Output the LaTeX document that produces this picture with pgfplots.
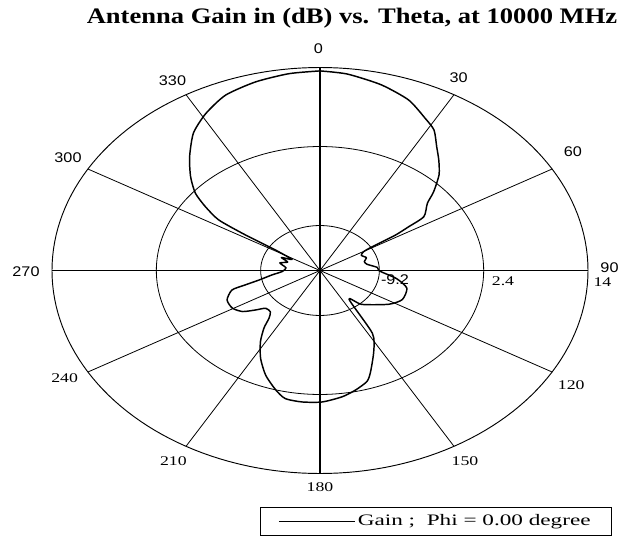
\documentclass[border=0pt]{standalone}
\usepackage{pgfplots}
\pgfplotsset{compat=1.18}
\usepackage{pgfplotstable}
\usepackage{fontspec}
\setmainfont{Liberation Serif}
\newfontfamily\titlefont[FakeStretch=1.2]{Liberation Serif}
\newfontfamily\lblsans[FakeStretch=1.16]{Liberation Sans}
\newfontfamily\lblserif[FakeStretch=1.33]{Liberation Serif}
\newfontfamily\legfont[FakeStretch=1.45]{Liberation Serif}

% theta (deg), gain (dB)
\pgfplotstableread{
t g
0 13.5
6 13.2
14 12.3
21.5 11.1
27.7 9.4
31.6 8.4
35.6 6.5
39.2 5.1
43.3 3.5
47.6 1.3
50.4 -0.3
55.6 -1.8
56.9 -4.0
58.2 -5.9
58.6 -7.7
59.2 -9.4
60.3 -10.2
64 -10.7
70 -10.3
75 -10.7
80 -10.5
86 -9.4
90.5 -9.2
98 -7.2
105 -5.8
115 -5.7
123 -6.7
137 -9.0
142.6 -10.5
147.7 -4.9
153.3 -2.5
159.3 0.1
162.2 1.3
167.4 2.2
172.4 2.9
179.3 3.5
185.9 3.6
191.6 3.4
195.7 2.4
201.5 0.7
207.1 -1.3
212.3 -3.4
216.4 -5.3
219 -6.8
222.3 -7.6
227.5 -7.6
231 -6.6
235 -5.3
240.4 -4.6
247.3 -4.6
253.7 -5.6
255.7 -7.2
258.4 -8.9
263 -10.4
268 -11.6
276 -12.0
284 -11.2
289 -12.0
294 -11.1
297.5 -12.3
301.3 -10.0
301.9 -7.8
302.3 -5.6
303.4 -2.3
306.3 0.0
309.3 2.1
313.7 4.1
319 6.3
325.1 8.8
331.1 10.5
337.8 12.0
345.5 12.8
353.2 13.3
360 13.5
}\gaintable

\begin{document}
\begin{tikzpicture}
\useasboundingbox (-240pt,-201.375pt) rectangle (227.25pt,202.875pt);
\begin{axis}[
  at={(0,0)}, anchor=center,
  scale only axis, width=402pt, height=304.5pt,
  xmin=-29.8, xmax=29.8, ymin=-29.8, ymax=29.8,
  hide axis, clip=false,
  legend style={at={(1.0442,-0.1532)}, anchor=south east, draw=black, line width=0.6pt,
    font=\legfont\fontsize{12}{14}\selectfont, inner xsep=13.5pt, inner ysep=3.6pt},
  legend image code/.code={\draw[#1,line width=0.6pt] (0pt,0pt) -- (57pt,0pt);},
]
% grid circles (-9.2, 2.4, 14 dB)
\addplot[black, line width=0.6pt, domain=0:360, samples=181, forget plot] ({6.6*sin(x)},{6.6*cos(x)});
\addplot[black, line width=0.6pt, domain=0:360, samples=181, forget plot] ({18.2*sin(x)},{18.2*cos(x)});
\addplot[black, line width=0.7pt, domain=0:360, samples=181, forget plot] ({29.8*sin(x)},{29.8*cos(x)});
% spokes
\addplot[black, line width=0.8pt, forget plot] coordinates {(0,29.8) (0,-29.8)};
\addplot[black, line width=0.8pt, forget plot] coordinates {(29.8,0) (-29.8,0)};
\addplot[black, line width=0.6pt, forget plot] coordinates {(14.9,25.81) (-14.9,-25.81)};
\addplot[black, line width=0.6pt, forget plot] coordinates {(25.81,14.9) (-25.81,-14.9)};
\addplot[black, line width=0.6pt, forget plot] coordinates {(25.81,-14.9) (-25.81,14.9)};
\addplot[black, line width=0.6pt, forget plot] coordinates {(14.9,-25.81) (-14.9,25.81)};
% gain pattern
\addplot[black, line width=1.1pt, line join=round, smooth, tension=0.4] table[
  x expr={(\thisrow{g}+15.8)*sin(\thisrow{t})},
  y expr={(\thisrow{g}+15.8)*cos(\thisrow{t})}] {\gaintable};
\addlegendentry{Gain ;\ \ Phi = 0.00 degree}
% angle labels
\begin{scope}[every node/.style={inner sep=0pt, anchor=center}]
\node[font=\lblsans\fontsize{10.5}{12}\selectfont] at (axis cs:-0.19,32.56) {0};
\node[font=\lblsans\fontsize{10.5}{12}\selectfont] at (axis cs:15.41,28.33) {30};
\node[font=\lblsans\fontsize{10.5}{12}\selectfont] at (axis cs:28.13,17.44) {60};
\node[font=\lblsans\fontsize{10.5}{12}\selectfont] at (axis cs:32.19,0.37) {90};
\node[font=\lblserif\fontsize{10}{12}\selectfont] at (axis cs:31.41,-1.76) {14};
\node[font=\lblserif\fontsize{10}{12}\selectfont] at (axis cs:27.94,-16.81) {120};
\node[font=\lblserif\fontsize{10}{12}\selectfont] at (axis cs:16.12,-28.01) {150};
\node[font=\lblserif\fontsize{10}{12}\selectfont] at (axis cs:0,-31.81) {180};
\node[font=\lblserif\fontsize{10}{12}\selectfont] at (axis cs:-16.31,-28.01) {210};
\node[font=\lblserif\fontsize{10}{12}\selectfont] at (axis cs:-28.39,-15.83) {240};
\node[font=\lblsans\fontsize{10.5}{12}\selectfont] at (axis cs:-32.69,-0.22) {270};
\node[font=\lblsans\fontsize{10.5}{12}\selectfont] at (axis cs:-28.02,16.51) {300};
\node[font=\lblsans\fontsize{10.5}{12}\selectfont] at (axis cs:-16.40,27.82) {330};
\node[font=\lblsans\fontsize{10.5}{12}\selectfont] at (axis cs:8.34,-1.39) {-9.2};
\node[font=\lblserif\fontsize{10}{12}\selectfont] at (axis cs:20.35,-1.61) {2.4};
\end{scope}
\end{axis}
\node[font=\titlefont\bfseries\fontsize{16.6}{20}\selectfont, inner sep=0pt] at (24pt,189.4pt) {Antenna Gain in (dB) vs. Theta, at 10000 MHz};
\end{tikzpicture}
\end{document}
